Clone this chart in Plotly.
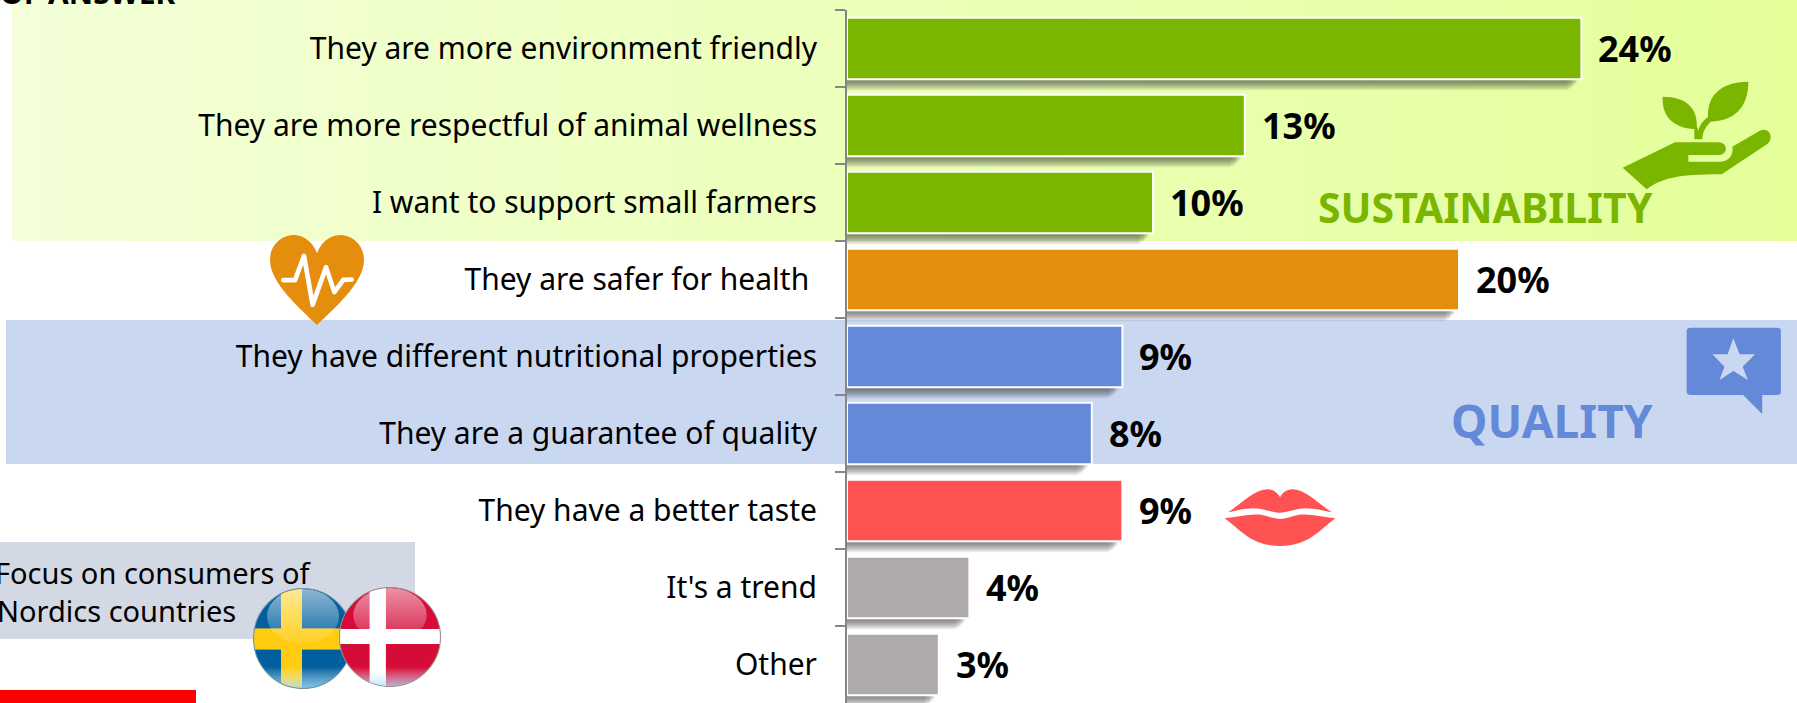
import base64
import plotly.graph_objects as go

WIDTH, HEIGHT = 1797, 703
AXIS_X = 847
AXIS_TOP = 10
PX_PER_POINT = 30.6
BAND_PX = 77

categories = [
    "They are more environment friendly",
    "They are more respectful of animal wellness",
    "I want to support small farmers",
    "They are safer for health\u00a0",
    "They have different nutritional properties",
    "They are a guarantee of quality",
    "They have a better taste",
    "It's a trend",
    "Other",
]
values = [24, 13, 10, 20, 9, 8, 9, 4, 3]
bar_colors = ["#7AB500", "#7AB500", "#7AB500", "#E58E0E", "#6389D8",
              "#6389D8", "#FF5252", "#AEAAA9", "#AEAAA9"]

FONT = "Noto Sans"


def px_x(x):
    return x / WIDTH


def px_y(y):
    return 1 - y / HEIGHT


def svg_image(x, y, w, h, view_box, body, layer="above"):
    """Place an inline SVG on the page, with its corner given in page pixels."""
    svg = (f'<svg xmlns="http://www.w3.org/2000/svg" width="{w}" height="{h}" '
           f'viewBox="{view_box}" preserveAspectRatio="none">{body}</svg>')
    uri = "data:image/svg+xml;base64," + base64.b64encode(svg.encode()).decode()
    return dict(source=uri, xref="paper", yref="paper", x=px_x(x), y=px_y(y),
                sizex=w / WIDTH, sizey=h / HEIGHT, xanchor="left", yanchor="top",
                sizing="stretch", layer=layer, opacity=1)


band_green = svg_image(12, 0, WIDTH - 12, 241, "0 0 100 100", (
    '<defs><linearGradient id="g"><stop offset="0" stop-color="#F3FFD8"/>'
    '<stop offset="1" stop-color="#E4FF9A"/></linearGradient></defs>'
    '<rect width="100" height="100" fill="url(#g)"/>'), layer="below")

heart = svg_image(270, 235, 94, 90, "90 45 282 271", (
    '<path fill="#E58E0E" d="M231,316 C180,265 90,190 90,120 C90,75 125,45 162,45 '
    'C195,45 220,70 231,100 C242,70 267,45 300,45 C337,45 372,75 372,120 '
    'C372,190 282,265 231,316 Z"/>'
    '<path fill="none" stroke="#fff" stroke-width="14" stroke-linecap="round" '
    'stroke-linejoin="round" d="M130,181 L165,181 L192,108 L218,255 L258,142 '
    'L283,217 L310,180 L335,179"/>'))

plant = svg_image(1300 + 960 / 3, 240 / 3, 460 / 3, 335 / 3, "960 240 460 335", (
    '<g fill="#7AB500">'
    '<path d="M968,503 L1040,568 C1085,535 1130,523 1265,523 L1402,432 '
    'C1425,412 1405,378 1378,393 L1297,440 C1302,465 1285,485 1262,485 L1165,485 '
    'L1165,465 L1255,465 C1285,465 1285,427 1255,427 L1125,427 Z"/>'
    '<path d="M1088,290 C1160,290 1195,325 1190,388 C1125,385 1085,355 1088,290 Z"/>'
    '<path d="M1345,245 C1345,325 1300,365 1225,365 C1215,290 1260,245 1345,245 Z"/>'
    '<path d="M1183,418 L1207,418 C1207,395 1220,375 1240,358 L1225,350 '
    'C1205,365 1197,380 1195,392 C1192,382 1188,375 1183,370 Z"/></g>'))

speech = svg_image(1100 + 1315 / 2.25, 300 + 80 / 3, 222 / 2.25, 265 / 3, "1315 80 222 265", (
    '<path fill="#6389D8" d="M1330,83 L1522,83 Q1532,83 1532,92 L1532,276 Q1532,285 1522,285 '
    'L1490,285 L1490,342 L1447,285 L1330,285 Q1320,285 1320,276 L1320,92 Q1320,83 1330,83 Z"/>'
    '<path fill="#C9D7F1" d="M1425,115 L1439,163 L1474,163 L1446,200 L1458,240 L1425,213 '
    'L1394,240 L1405,200 L1378,163 L1412,163 Z"/>'))

lips = svg_image(820 + 1170 / 2.904, 460 + 85 / 3, 330 / 2.904, 175 / 3, "1170 85 330 175", (
    '<g fill="#FF5252">'
    '<path d="M1185,157 C1225,130 1262,88 1300,88 C1318,88 1330,100 1336,112 '
    'C1342,100 1354,88 1372,88 C1410,88 1445,130 1487,157 C1450,150 1420,140 1385,148 '
    'C1365,153 1350,158 1336,158 C1322,158 1305,153 1285,148 C1250,140 1220,150 1185,157 Z"/>'
    '<path d="M1175,175 C1215,170 1250,160 1285,165 C1305,170 1320,177 1336,177 '
    'C1352,177 1367,170 1387,165 C1422,160 1457,170 1497,175 C1450,210 1420,258 1336,258 '
    'C1252,258 1222,210 1175,175 Z"/></g>'))

GLOSS = (
    '<linearGradient id="gl" x1="0" y1="0" x2="0" y2="1">'
    '<stop offset="0" stop-color="#fff" stop-opacity=".55"/>'
    '<stop offset="1" stop-color="#fff" stop-opacity=".08"/></linearGradient>'
    '<linearGradient id="lo" x1="0" y1="0" x2="0" y2="1">'
    '<stop offset="0" stop-color="#fff" stop-opacity="0"/>'
    '<stop offset="1" stop-color="#9FE0FF" stop-opacity=".8"/></linearGradient>'
    '<clipPath id="c"><circle cx="50" cy="50" r="49.5"/></clipPath>'
)

flag_se = svg_image(253, 588, 100, 101, "0 0 100 100", (
    f'<defs>{GLOSS}</defs><g clip-path="url(#c)">'
    '<rect width="100" height="100" fill="#005F9E"/>'
    '<rect x="28" width="21" height="100" fill="#FFCC12"/>'
    '<rect y="40" width="100" height="21" fill="#FFCC12"/>'
    '<ellipse cx="50" cy="28" rx="36" ry="27" fill="url(#gl)"/>'
    '<rect y="78" width="100" height="22" fill="url(#lo)"/></g>'
    '<circle cx="50" cy="50" r="49.5" fill="none" stroke="#6F8FA0" stroke-width="1"/>'))

flag_dk = svg_image(339, 587, 102, 100, "0 0 100 100", (
    f'<defs>{GLOSS}</defs><g clip-path="url(#c)">'
    '<rect width="100" height="100" fill="#D50C38"/>'
    '<rect x="30" width="16" height="100" fill="#fff"/>'
    '<rect y="42" width="100" height="15" fill="#fff"/>'
    '<ellipse cx="50" cy="28" rx="36" ry="27" fill="url(#gl)"/>'
    '<rect y="80" width="100" height="20" fill="url(#lo)"/></g>'
    '<circle cx="50" cy="50" r="49.5" fill="none" stroke="#9A8A8E" stroke-width="1"/>'))

fig = go.Figure(go.Bar(
    x=values,
    y=categories,
    orientation="h",
    marker=dict(color=bar_colors, line=dict(color="#FFFFFF", width=2)),
    hoverinfo="skip",
))

shapes = [
    dict(type="rect", xref="paper", yref="paper", layer="below", line_width=0,
         fillcolor="#C9D7F1", x0=px_x(6), x1=1, y0=px_y(320), y1=px_y(464)),
    dict(type="rect", xref="paper", yref="paper", layer="below", line_width=0,
         fillcolor="#D3D9E4", x0=0, x1=px_x(415), y0=px_y(542), y1=px_y(639)),
    dict(type="rect", xref="paper", yref="paper", layer="below", line_width=0,
         fillcolor="#FF0000", x0=0, x1=px_x(196), y0=px_y(690), y1=0),
]

# Soft drop shadow under each bar, built up from translucent layers.
for i, v in enumerate(values):
    for depth, inset in [(11, 14), (10, 12), (9, 10), (8, 9), (7, 8), (6, 7), (5, 6), (4, 5), (3, 4)]:
        shapes.append(dict(
            type="rect", xref="x", yref="y", layer="below", line_width=0,
            fillcolor="rgba(40,40,40,0.075)",
            x0=0, x1=v - inset / PX_PER_POINT,
            y0=i + 0.4, y1=i + 0.4 + depth / BAND_PX,
        ))

annotations = [
    dict(x=v, y=c, xref="x", yref="y", text=f"<b>{v}%</b>", showarrow=False,
         xanchor="left", yanchor="middle", xshift=15, yshift=0,
         font=dict(family=FONT, size=36, color="#000000"))
    for c, v in zip(categories, values)
]


def page_text(x, y, text, anchor, size, color="#000000"):
    return dict(x=px_x(x), y=px_y(y), xref="paper", yref="paper", text=text,
                showarrow=False, xanchor=anchor, yanchor="middle",
                font=dict(family=FONT, size=size, color=color))


annotations += [
    page_text(1655, 207, "<b>SUSTAINABILITY</b>", "right", 41, "#7AB500"),
    page_text(1655, 420, "<b>QUALITY</b>", "right", 46, "#6389D8"),
    page_text(314, 572, "Focus on consumers of", "right", 29),
    page_text(238, 610, "Nordics countries", "right", 29),
    page_text(177, -7, "<b>OF ANSWER</b>", "right", 30),
]

fig.update_layout(
    width=WIDTH,
    height=HEIGHT,
    margin=dict(l=0, r=0, t=0, b=0),
    paper_bgcolor="#FFFFFF",
    plot_bgcolor="rgba(0,0,0,0)",
    showlegend=False,
    bargap=0.2,
    shapes=shapes,
    images=[band_green, heart, plant, speech, lips, flag_se, flag_dk],
    annotations=annotations,
    xaxis=dict(domain=[px_x(AXIS_X), 1], range=[0, (WIDTH - AXIS_X) / PX_PER_POINT],
               visible=False),
    yaxis=dict(
        domain=[0, px_y(AXIS_TOP)],
        type="category",
        categoryorder="array",
        categoryarray=categories,
        range=[len(categories) - 0.5, -0.5],
        showgrid=False,
        showline=True,
        linecolor="#868686",
        linewidth=2,
        ticks="outside",
        tickson="boundaries",
        ticklen=10,
        tickwidth=2,
        tickcolor="#868686",
        ticklabelstandoff=22,
        tickfont=dict(family=FONT, size=30, color="#000000"),
    ),
)

fig.write_html("out.html")
